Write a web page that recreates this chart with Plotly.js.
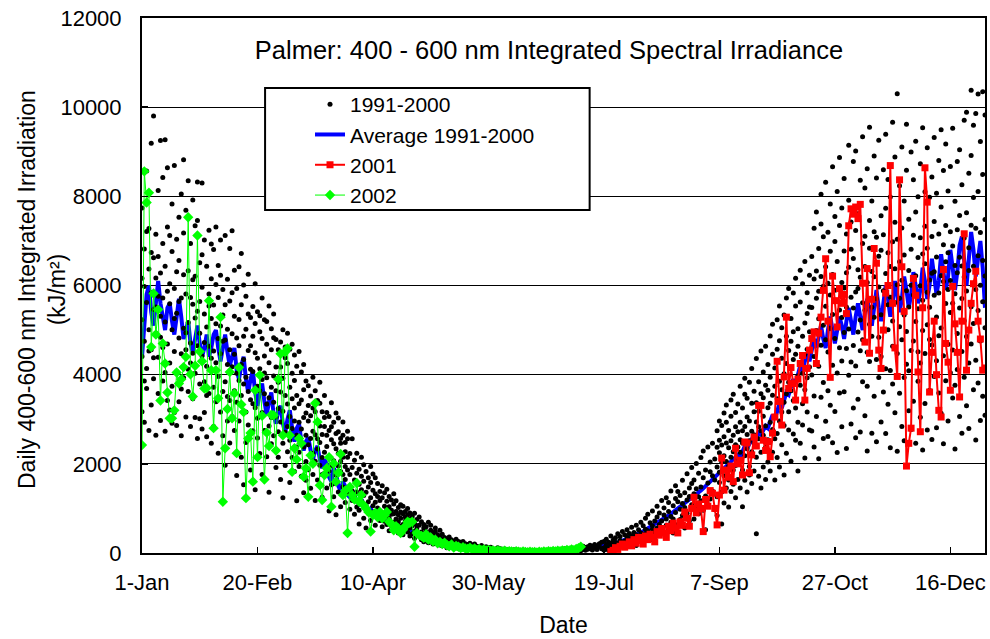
<!DOCTYPE html>
<html><head><meta charset="utf-8">
<script src="https://cdn.plot.ly/plotly-3.0.1.min.js"></script>
<style>html,body{margin:0;padding:0;background:#fff}#chart{width:990px;height:639px}</style>
</head><body><div id="chart"></div>
<script>
// x tick positions (day of year) and labels
const tickDays = [1, 51, 101, 151, 201, 251, 301, 351];
const tickLabels = ['1-Jan', '20-Feb', '10-Apr', '30-May', '19-Jul', '7-Sep', '27-Oct', '16-Dec'];
const yTicks = [0, 2000, 4000, 6000, 8000, 10000, 12000];
const yTickLabels = ['0', '2000', '4000', '6000', '8000', '10000', '12000'];

// Average 1991-2000, one value per day starting 1-Jan
const avgStartDay = 1;
const avg1991_2000 = [
4400,5200,5800,6000,5400,5100,5700,6100,5600,5300,
5000,5500,5600,5200,4900,5300,5700,5300,4800,5000,
5200,4700,4500,4800,5100,4700,4400,4600,4900,4400,
4600,4900,5000,4600,4300,4600,4900,4500,4200,4400,
4600,4100,3900,4200,4400,3900,3600,3900,4100,3600,
3300,3600,3800,3400,3100,3400,3600,3100,2900,3200,
3300,2900,2700,3000,3200,2800,2500,2800,2900,2500,
2300,2500,2600,2300,2100,2300,2400,2100,1900,2100,
2000,1700,1600,1900,1800,1500,1400,1600,1500,1300,
1250,1400,1300,1150,1100,1200,1100,1000,950,1000,
900,850,900,800,750,800,720,680,700,640,
600,620,570,540,550,500,480,490,450,430,
420,400,380,370,350,340,320,300,290,280,
260,250,240,230,220,200,190,180,170,160,
150,140,135,130,120,110,105,100,95,90,
85,80,75,70,65,60,58,55,50,48,
45,42,40,38,36,35,34,33,32,32,
31,31,32,33,34,35,36,38,40,42,
40,42,45,48,50,53,56,60,63,66,
70,75,80,88,95,105,115,125,135,145,
150,160,175,190,205,220,240,255,275,295,
315,340,360,385,410,435,460,490,520,550,
580,610,640,670,700,730,760,800,840,880,
920,960,1000,1040,1080,1120,1150,1190,1230,1270,
1300,1350,1400,1450,1500,1550,1600,1650,1700,1750,
1800,1850,1900,1950,2000,2050,2100,2150,2200,2150,
2300,2400,2350,2450,2550,2500,2600,2700,2650,2750,
2850,2800,2950,3100,3000,3200,3350,3250,3450,3600,
3550,3750,3900,3800,4000,4200,4100,4350,4500,4300,
4600,4800,4600,4900,5100,4800,4600,5000,5300,5000,
4700,5000,5300,5100,4800,5200,5500,5200,4900,5300,
5600,5300,5000,5400,5700,5400,5100,5500,5900,5500,
5200,5600,6000,5700,5300,5600,6100,5800,5400,5700,
6200,5900,5500,5800,6300,6000,5600,5900,6400,6100,
5700,6000,6600,6200,5800,6100,6700,6300,5900,6200,
6800,6400,5900,6300,6900,7100,6500,6000,6600,7200,
6800,6200,6600,7000,6400,5500
];

// 2001, daily from day 204
const start2001 = 204;
const y2001 = [
30,60,120,80,150,200,130,
180,250,160,300,220,350,280,200,380,300,
420,350,250,480,400,550,450,350,600,500,
670,560,450,700,620,920,780,600,1000,1250,
900,1100,1000,480,1200,1050,1400,1340,1000,630,
1300,2130,1410,1860,1700,1950,1600,2350,2000,2080,
1750,2490,2470,1800,2200,2600,2400,3310,3310,2530,
2300,2500,2160,2690,3050,4300,3400,2870,3950,5290,
3690,4160,3800,3430,3900,4250,4430,3430,4140,4550,
4810,4960,4250,4930,5290,5890,6600,5200,3940,6210,
5660,5070,5930,5600,5800,5370,7340,7720,7600,7760,
7500,7820,6050,4730,6380,4480,5690,6830,6500,4550,
4140,5000,5830,6000,8690,5600,4600,3960,8370,6420,
5420,1950,2460,2800,6160,5780,4060,2720,5500,8640,
7870,3610,4500,5200,4000,3200,3050,6360,4700,4280,
3650,5980,5140,4500,3500,5200,7160,4100,5000,5600,
6040,6320,5200,4800,4100,4150
];

// 2002, daily from day 1
const start2002 = 1;
const y2002 = [
2420,8560,7860,8080,4620,5820,4900,5460,3420,4700,
4250,3600,3020,3020,3200,4050,3800,3900,4170,4400,
7530,4010,3510,4200,7120,4520,4300,3690,3700,5660,
4100,2800,4100,3470,5290,1150,2350,3230,4060,3020,
3580,2240,4160,3330,3160,1230,2570,2690,1600,3650,
2150,3990,3080,1650,2700,2400,3100,3090,2300,3900,
4470,2640,4510,4590,2640,1820,2350,2100,2570,2460,
1710,1900,1260,2190,2000,3360,2940,1520,1190,1750,
1900,2150,1040,2010,1600,1800,2220,1300,1400,450,
1480,1300,1200,1570,1150,1300,1070,1000,920,480,
850,900,800,920,780,850,920,700,650,510,
600,550,450,520,600,700,680,700,140,450,
400,380,340,420,300,350,260,300,220,250,
200,230,180,150,190,120,160,140,110,130,
100,90,120,80,100,70,90,60,80,55,
70,50,60,40,55,45,35,50,30,40,
35,25,40,30,20,35,25,15,30,20,
25,15,30,20,35,25,40,30,45,35,
50,40,60,45,70,55,80,65,90,110,140
];

// 1991-2000 daily observations: one row per day (day 1 .. 366)
const dotsStartDay = 1;
const dots1991_2000 = [
[5230,3170,7740,4410,6160],[6820,4750,2930,5980,3860],[4140,8570,5620,3690,7210],[6370,2750,5010,7280,4530],[4560,5840,9190,3320,6740],
[9800,5460,3910,6620,4380],[4930,7150,2640,6170,5520],[3580,5760,8130,4390,6650],[9250,6280,4840,2970,5310],[5720,3860,6940,8420,4610],
[2730,9270,5180,6430,4050],[4690,8640,7310,3420,5870],[6040,4260,3210,5590,7120],[7830,5010,3740,6760,2910],[3150,8690,5930,4520,5260],
[5380,7040,4070,2860,6310],[6560,3390,4820,7530,5640],[4470,8050,5720,2630,3680],[3930,6240,7180,5040,8820],[5810,3050,4560,7690,4940],
[8350,5170,3620,6330,4120],[4710,6940,2840,4260,5730],[3460,5580,7920,6130,4480],[6210,4030,5270,3040,7340],[2570,7460,8320,4650,5420],
[5640,3790,6510,4930,3010],[8300,4420,5960,2780,6690],[3840,7020,3150,5360,4720],[5070,2610,6430,4190,3530],[7240,4640,3580,5810,5540],
[4370,6150,2460,5260,6930],
[4530,6810,2840,3720,5560],[5140,3390,7310,4270,6020],[3960,5730,2240,4810,6450],[6230,4470,3160,7020,5090],[3620,5340,4750,2630,5910],
[4780,7120,3840,5570,1970],[2960,4230,6140,5020,3510],[5650,3420,6830,2470,4560],[4180,4920,3060,5840,7230],[5310,2750,4460,6340,3640],
[3380,5930,4820,1740,4030],[6420,3870,5240,2960,4650],[4230,5570,2150,3530,6720],[3790,4860,6010,1530,4340],[5020,3160,3940,5760,2480],
[2870,4540,5360,3620,6250],[4650,3440,1860,5280,4120],[5530,4070,2740,4860,3350],[3260,5150,4490,1420,6040],[4370,2580,3740,5410,3020],
[3640,4960,2230,4130,5320],[4810,3150,5720,3890,1760],[2750,4420,3570,5230,4040],[5190,3930,2160,3340,4680],[3480,5540,4270,2850,1360],
[4560,3040,5030,3720,2450],[3970,4830,2630,5360,3380],[3050,4170,4790,1920,3640],
[3240,4560,2150,3830,2720],[4730,2940,3610,1650,4170],[2460,3920,5010,3180,1240],[3530,2710,4380,1960,4620],[4250,3340,2270,4930,2840],
[3060,4570,2530,3720,1580],[2140,3460,4030,2790,4680],[3870,1830,2960,4440,3250],[2640,4190,3530,1170,2380],[3350,2260,4520,2930,1940],
[4060,2780,1720,3430,2470],[2380,3660,3040,1350,4230],[3140,2050,3860,2640,1630],[1870,2960,2430,3750,3310],[3520,2570,1450,3080,2160],
[2730,3940,2240,1760,3250],[2060,3170,2650,3640,1180],[2950,1640,3420,2330,2560],[2480,3360,1970,2850,3830],[3170,2140,1250,2660,1760],
[1790,2840,3530,2260,3040],[2640,1460,2390,3150,1920],[2170,3060,1840,940,2750],[2830,1960,2540,3370,1530],[1560,2450,2930,2070,1260],
[2340,3140,1750,2680,860],[1950,1370,2720,2240,3030],[2570,2060,1040,1830,2460],[1480,2640,2150,2940,1760],[2270,1650,2480,1130,1940],
[1860,2730,1370,2150,2560],
[1450,2230,980,1760],[1180,1920,2560,1390],[1640,870,2080,1250],[2240,1370,1030,1790],[960,1540,1880,650],
[1720,1160,2150,1420],[1290,780,1610,1980],[1830,1070,1360,560],[1150,1690,890,1480],[1580,730,1240,1940],
[920,1410,1770,1060],[1330,620,1140,1690],[1560,1010,820,1270],[730,1380,1180,940],[1240,860,1510,590],
[1050,1350,710,900],[640,1160,980,1430],[1270,780,1040,500],[870,1190,610,960],[1100,690,880,1330],
[560,930,1170,760],[1020,700,450,860],[780,1080,600,920],[640,410,880,1050],[930,720,530,810],
[470,850,680,1000],[760,560,900,380],[610,820,430,700],[890,490,660,330],[540,750,400,610],
[620,390,810],[470,700,300],[560,250,640],[360,590,480],[690,420,230],
[300,510,620],[450,200,380],[560,330,480],[240,410,300],[370,510,180],
[290,160,420],[350,230,270],[190,320,120],[280,150,360],[210,300,240],
[130,260,190],[310,170,230],[200,100,260],[150,240,180],[260,130,90],
[170,210,120],[90,190,150],[220,110,160],[130,70,180],[160,120,200],
[80,150,100],[140,60,110],[110,170,70],[50,130,90],[100,60,140],
[110,45],[70,130],[95,40],[50,85],[120,30],[65,100],[35,75],[90,25],[55,80],[30,70],
[60,20],[40,75],[25,50],[65,15],[35,55],[20,45],[50,10],[30,60],[15,40],[45,25],
[20,55],[35,10],[50,25],[15,40],[30,60],[45,20],[25,55],[60,30],[35,70],[20,50],
[65,35],[40,80],[75,30],[50,95],[35,70],[85,45],[60,110],[40,90],[100,55],[70,130],
[115,50],[80,150],[60,125],[140,85],[100,175],[70,150],[190,110],[130,80],[210,150],[95,240],
[120,260,70],[310,180,90],[150,60,240],[220,380,130],[90,190,290],
[340,150,240],[210,430,110],[160,280,370],[480,230,140],[270,190,410],
[360,520,200],[150,310,440],[580,270,380],[230,460,330],[410,170,620],
[520,350,280],[300,690,450],[610,240,390],[430,530,780],[350,870,500],
[680,420,300],[530,940,610],[290,720,470],[810,560,1050],[640,390,900],
[1180,720,540],[470,850,1010],[760,1240,620],[930,540,1130],[690,1390,820],
[1060,760,450],[1510,910,1220],[640,1150,1380],[1290,980,750],[840,1630,1110],
[1350,560,1020],[1190,1780,890],[720,1460,1270],[1560,1080,1920],[1330,760,1640],
[1020,2010,1440],[1790,1260,880],[1480,2140,1170],[960,1690,2290],[1860,1280,520],
[1570,2380,1090],[1210,1820,2040],[2460,1390,1730],[1640,2110,970],
[1930,2740,1260,2370,840],[2250,1580,2960,1810,2530],[1370,2420,2040,650,2860],[2610,1730,3140,2180,1120],[2050,2930,1460,2470,3320],
[1640,2360,2750,1030,1940],[3070,2150,1380,2520,3430],[1860,2640,2270,3560,1540],[2430,1240,2830,1960,3150],[3340,2070,1650,2720,2380],
[1460,2930,3740,2260,2540],[2740,1860,2470,3250,1040],[2180,3560,2840,1630,3920],[3050,2340,1370,2660,3470],[1940,3830,2520,2960,1750],
[3360,2270,4140,1560,2730],[2650,3170,1840,3630,2460],[430,2940,2150,4360,3370],[3840,2560,3180,1720,2830],[2260,3570,2740,4530,1460],
[3070,1930,4060,2640,3480],[3760,2850,2370,4640,1650],[2540,4230,3260,2040,3650],[3360,1840,4870,2930,3940],[2770,4460,3540,2260,5130],
[4150,3060,1640,3740,2560],[3460,5230,2680,4570,2140],[2960,3850,4760,1930,5540],[4370,2430,3660,5050,3160],[1750,4020,5340,3380,2860],
[4860,3570,2240,5720,4250],[3830,2760,4540,3170,5930],[5260,4130,2060,3640,4750],[2670,4960,5830,3420,4340],[4460,3250,5540,2530,6160],
[3970,5030,2930,4640,1840],[5630,3760,6340,4270,2460],[3350,4860,4030,6040,2870],[5160,2130,4450,3660,6540],[4570,5840,3160,5370,3930],
[2760,4960,6230,4170,5520],
[4817,6652,2738,5509,3994],[6143,3521,7286,4408,2379],[3062,5715,4991,7648,6324],[5253,4187,6832,2116,5871],[7379,4662,3495,6201,8044],
[3826,5983,5107,2569,7091],[6418,2954,4782,8317,5535],[4506,7193,6048,3642,2611],[5789,3312,7828,5036,6767],[2473,6249,4211,8665,5352],
[6985,4813,3176,5894,7547],[4039,8108,5662,6541,2257],[5451,3587,7344,4603,8871],[7738,6066,2829,5281,4305],[3617,6774,8402,4948,5946],
[6284,2342,5518,7155,4589],[5027,7913,3988,6409,9143],[2893,5737,6812,4284,7423],[6608,4655,8779,3251,5496],[4192,7235,5857,9018,2587],
[5934,3449,4957,7612,6354],[8361,5228,2713,6185,4537],[4784,6943,9337,3839,5615],[6427,3078,5446,8189,7102],[3739,8617,6068,4504,2289],
[7456,5133,4294,6837,9547],[5513,2687,7894,6312,4859],[8905,6194,3516,5287,7208],[4338,7083,5704,2495,8413],[6657,4842,9256,3937,5968],
[2938,7563,5342,6788,4406],[5884,3613,8596,7137,4983],[7734,6268,4133,2678,9395],[5009,8376,6734,5567,3334],[4093,5738,2362,7985,6427],
[6984,4637,9662,5204,3788],[5618,8883,3144,6373,7416],[10300,4472,6016,2283,7037],[3584,6533,5077,8238,5713],[7287,2835,9108,4783,6117],
[5337,7894,3938,6683,2516],[8583,4232,5884,9617,4967],[3193,6337,7484,5516,4089],[6007,8993,4541,2768,6812],[4755,7129,5786,8374,3403],
[7648,2461,6217,5192,9235],[5479,6626,3850,7988,4514],[4263,8731,5997,3045,7072],[6707,4993,9541,5668,2312],[3355,7329,6486,4474,8103],
[5848,2761,5117,9092,6835],[7979,6126,3650,4788,5514],[4663,8431,7097,2545,6272],[6309,3958,9321,5784,7436],[2807,5293,6641,8068,4312],
[7155,5829,3586,4874,8803],[5048,7761,6217,9492,3135],[8579,4426,2450,6088,6914],[3863,6531,5597,7345,9172],[5909,2958,8121,4684,6736],
[7207,5393,4041,8668,6112],[4555,9529,6886,3474,5603],[6448,3761,5817,7892,2335],[8779,4926,7250,6288,4114],[3063,6631,5497,9045,7572],
[5709,8258,4521,2684,6436],[9707,6193,3941,7068,5212],[4855,7629,9886,5874,3303],[6848,4261,8517,2792,6335],[10379,5526,7350,4688,8914],
[3663,6431,9597,5145,7972],[5909,9858,4321,7284,2536],[8107,10293,5441,6668,3812],[4755,9229,7186,2974,6003],[10348,6561,3517,8492,5635],
[7479,9826,5050,3088,6214]
];

function dayRange(start, n) { const a = []; for (let i = 0; i < n; i++) a.push(start + i); return a; }

const dotX = [], dotY = [];
dots1991_2000.forEach((row, i) => { row.forEach(v => { dotX.push(dotsStartDay + i); dotY.push(v); }); });

const font = 'Liberation Sans, Arial, sans-serif';
const yTitleText = 'Daily 400-600 nm Integrated Irradiation<br>(kJ/m²)';

const traces = [
  { type: 'scatter', mode: 'lines', name: 'Average 1991-2000', legendrank: 2,
    x: dayRange(avgStartDay, avg1991_2000.length), y: avg1991_2000,
    line: { color: '#0000FF', width: 4 } },
  { type: 'scatter', mode: 'markers', name: '1991-2000', legendrank: 1,
    x: dotX, y: dotY, marker: { color: '#000000', size: 5 } },
  { type: 'scatter', mode: 'lines+markers', name: '2001', legendrank: 3,
    x: dayRange(start2001, y2001.length), y: y2001,
    line: { color: '#FF0000', width: 2 }, marker: { color: '#FF0000', symbol: 'square', size: 7 } },
  { type: 'scatter', mode: 'lines+markers', name: '2002', legendrank: 4,
    x: dayRange(start2002, y2002.length), y: y2002,
    line: { color: '#00FF00', width: 1 }, marker: { color: '#00FF00', symbol: 'diamond', size: 8 } }
];

const layout = {
  width: 990, height: 639,
  margin: { l: 142, r: 5, t: 18, b: 86 },
  paper_bgcolor: '#fff', plot_bgcolor: '#fff',
  font: { family: font, size: 21, color: '#000' },
  showlegend: true,
  title: { text: 'Palmer: 400 - 600 nm Integrated Spectral Irradiance',
    x: 0.5545, xanchor: 'center', y: 0.922, yanchor: 'middle',
    font: { family: font, size: 25.5, color: '#000' } },
  xaxis: {
    range: [1, 366], tickmode: 'array', tickvals: tickDays, ticktext: tickLabels,
    showgrid: false, zeroline: false, showline: true, linecolor: '#000', linewidth: 2, mirror: true,
    ticks: 'inside', ticklen: 6, tickwidth: 1.5, tickcolor: '#000', ticklabelstandoff: 9,
    tickfont: { family: font, size: 22, color: '#000' },
    title: { text: 'Date', font: { family: font, size: 23, color: '#000' } }
  },
  yaxis: {
    range: [0, 12000], tickmode: 'array', tickvals: yTicks, ticktext: yTickLabels,
    showgrid: true, gridcolor: '#000', gridwidth: 1, zeroline: false,
    showline: true, linecolor: '#000', linewidth: 2, mirror: true,
    ticks: 'inside', ticklen: 6, tickwidth: 1.5, tickcolor: '#000', ticklabelstandoff: 14,
    tickfont: { family: font, size: 22, color: '#000' },
    title: { text: '' }
  },
  annotations: [
    { text: yTitleText, xref: 'paper', yref: 'paper', x: -0.1186, y: 0.4916,
      xanchor: 'center', yanchor: 'middle', textangle: -90, showarrow: false,
      font: { family: font, size: 23, color: '#000' } }
  ],
  legend: {
    x: 0.1993, xanchor: 'left', y: 0.8766, yanchor: 'top',
    bgcolor: 'rgba(0,0,0,0)', borderwidth: 0,
    font: { family: font, size: 21, color: '#000' }
  },
  shapes: [
    { type: 'rect', xref: 'paper', yref: 'paper', x0: 0.146, x1: 0.531, y0: 0.641, y1: 0.869,
      line: { color: '#000', width: 2 }, fillcolor: '#fff', layer: 'above' }
  ]
};

Plotly.newPlot('chart', traces, layout, { displayModeBar: false, staticPlot: true });
</script>
</body></html>
